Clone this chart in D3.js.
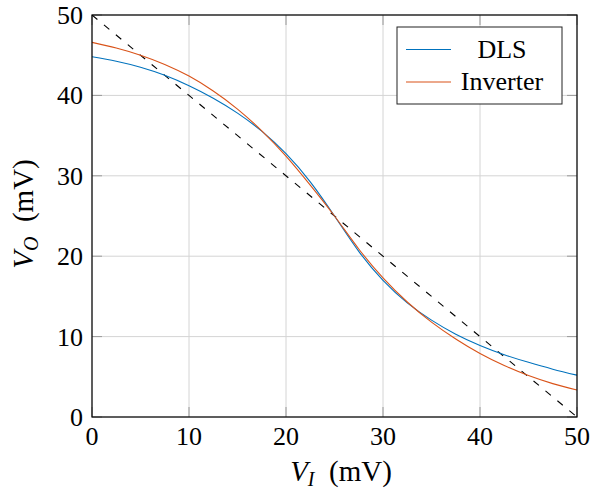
<!DOCTYPE html>
<html>
<head>
<meta charset="utf-8">
<script src="https://cdn.jsdelivr.net/npm/d3@7"></script>
<style>
  html, body { margin: 0; padding: 0; background: #fff; }
  svg { display: block; font-family: "Liberation Serif", "DejaVu Serif", serif; }
</style>
</head>
<body>
<svg id="chart" width="593" height="495"></svg>
<script>
// Input voltage samples (mV)
const vIn = [0, 2.5, 5, 7.5, 10, 12.5, 15, 17.5, 20, 22.5, 25, 27.5, 30, 32.5, 35, 37.5, 40, 42.5, 45, 47.5, 50];
// Output voltage of the DLS stage (mV)
const dlsOut = [44.8, 44.25, 43.5, 42.5, 41.2, 39.65, 37.8, 35.55, 32.75, 29.25, 25.0, 20.6, 17.0, 14.2, 12.05, 10.3, 8.9, 7.75, 6.8, 5.95, 5.2];
// Output voltage of the inverter (mV)
const invOut = [46.6, 45.9, 45.0, 43.85, 42.4, 40.55, 38.3, 35.6, 32.45, 28.85, 25.0, 20.9, 17.3, 14.3, 11.8, 9.7, 7.9, 6.4, 5.15, 4.15, 3.35];
// Ideal unity-gain reference line endpoints
const refX = [0, 50];
const refY = [50, 0];
const ticks = [0, 10, 20, 30, 40, 50];
const seriesNames = ["DLS", "Inverter"];
const seriesColors = ["#0072BD", "#D95319"];

const svg = d3.select("#chart");
const pL = 92, pR = 577, pT = 15, pB = 417;

const x = d3.scaleLinear().domain([0, 50]).range([pL, pR]);
const y = d3.scaleLinear().domain([0, 50]).range([pB, pT]);

// grid
const grid = svg.append("g").attr("stroke", "#d4d4d4").attr("stroke-width", 1);
grid.selectAll("line.gx").data(ticks).join("line")
  .attr("class", "gx")
  .attr("x1", d => x(d)).attr("x2", d => x(d))
  .attr("y1", pT).attr("y2", pB);
grid.selectAll("line.gy").data(ticks).join("line")
  .attr("class", "gy")
  .attr("y1", d => y(d)).attr("y2", d => y(d))
  .attr("x1", pL).attr("x2", pR);

// inward ticks on all four sides
const tl = 10;
const tk = svg.append("g").attr("stroke", "#9a9a9a").attr("stroke-width", 1);
ticks.forEach(t => {
  tk.append("line").attr("x1", x(t)).attr("x2", x(t)).attr("y1", pB).attr("y2", pB - tl);
  tk.append("line").attr("x1", x(t)).attr("x2", x(t)).attr("y1", pT).attr("y2", pT + tl);
  tk.append("line").attr("y1", y(t)).attr("y2", y(t)).attr("x1", pL).attr("x2", pL + tl);
  tk.append("line").attr("y1", y(t)).attr("y2", y(t)).attr("x1", pR).attr("x2", pR - tl);
});

svg.append("clipPath").attr("id", "clip")
  .append("rect").attr("x", pL).attr("y", pT).attr("width", pR - pL).attr("height", pB - pT);
const plot = svg.append("g").attr("clip-path", "url(#clip)");

// dashed reference
plot.append("line")
  .attr("x1", x(refX[0])).attr("y1", y(refY[0]))
  .attr("x2", x(refX[1])).attr("y2", y(refY[1]))
  .attr("stroke", "#000").attr("stroke-width", 1.1)
  .attr("stroke-dasharray", "7,8.5");

const line = d3.line().x(d => x(d[0])).y(d => y(d[1])).curve(d3.curveNatural);
[dlsOut, invOut].forEach((s, i) => {
  plot.append("path")
    .datum(vIn.map((v, j) => [v, s[j]]))
    .attr("d", line)
    .attr("fill", "none")
    .attr("stroke", seriesColors[i])
    .attr("stroke-width", 1.1);
});

// axes frame
svg.append("rect").attr("x", pL).attr("y", pT).attr("width", pR - pL).attr("height", pB - pT)
  .attr("fill", "none").attr("stroke", "#000").attr("stroke-width", 1.2);

// tick labels
const fs = 26;
svg.append("g").selectAll("text").data(ticks).join("text")
  .attr("x", d => x(d)).attr("y", 445)
  .attr("text-anchor", "middle").attr("font-size", fs).text(d => d);
svg.append("g").selectAll("text").data(ticks).join("text")
  .attr("x", 83).attr("y", d => y(d) + 9)
  .attr("text-anchor", "end").attr("font-size", fs).text(d => d);

// axis labels
const lfs = 29, sfs = 20;
const xl = svg.append("text").attr("x", 341).attr("y", 481).attr("text-anchor", "middle").attr("font-size", lfs);
xl.append("tspan").attr("font-style", "italic").text("V");
xl.append("tspan").attr("font-style", "italic").attr("font-size", sfs).attr("dy", 5).text("I");
xl.append("tspan").attr("dy", -5).text("\u2002(mV)");

const yl = svg.append("text").attr("transform", "translate(33,214) rotate(-90)")
  .attr("text-anchor", "middle").attr("font-size", lfs);
yl.append("tspan").attr("font-style", "italic").text("V");
yl.append("tspan").attr("font-style", "italic").attr("font-size", sfs).attr("dy", 5).text("O");
yl.append("tspan").attr("dy", -5).text("\u2002(mV)");

// legend
const lg = svg.append("g");
lg.append("rect").attr("x", 397).attr("y", 27).attr("width", 165).attr("height", 77)
  .attr("fill", "#fff").attr("stroke", "#222").attr("stroke-width", 1);
const rowsY = [49.5, 82];
seriesNames.forEach((n, i) => {
  lg.append("line").attr("x1", 406).attr("x2", 451).attr("y1", rowsY[i]).attr("y2", rowsY[i])
    .attr("stroke", seriesColors[i]).attr("stroke-width", 1.1);
  lg.append("text").attr("x", 502).attr("y", rowsY[i] + 8).attr("text-anchor", "middle")
    .attr("font-size", 26).text(n);
});
</script>
</body>
</html>
